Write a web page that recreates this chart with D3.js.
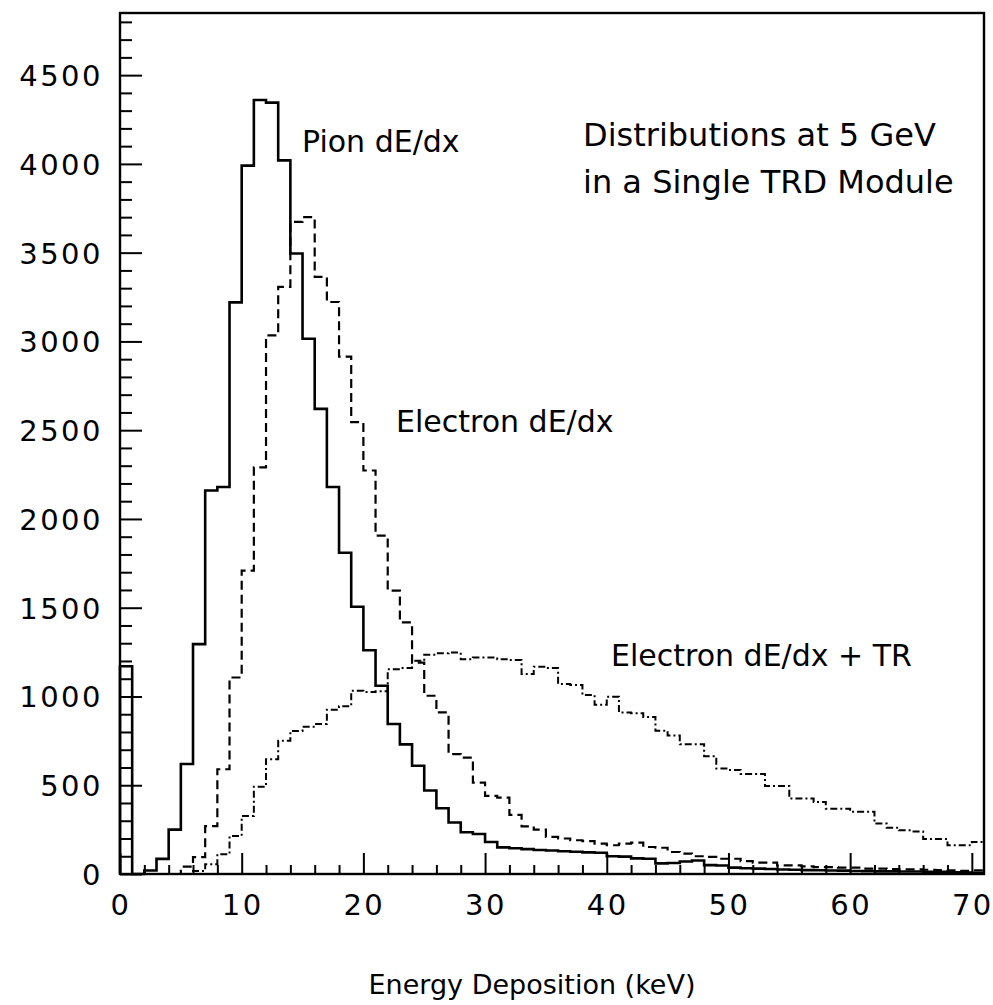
<!DOCTYPE html>
<html>
<head>
<meta charset="utf-8">
<script src="https://cdn.jsdelivr.net/npm/d3@7"></script>
<style>
  body { margin: 0; background: #fff; }
  text { font-family: "DejaVu Sans", sans-serif; fill: #000; }
</style>
</head>
<body>
<svg width="993" height="1005"></svg>
<script>
// Bin contents, 1 keV bins starting at 0 keV (bins 0..70)
const pion = [
  1170, 0, 20, 85, 250, 620, 1295, 2160, 2180, 3220,
  3990, 4360, 4345, 4020, 3495, 3015, 2620, 2180, 1810, 1505,
  1260, 1060, 845, 730, 610, 470, 370, 290, 235, 225,
  180, 150, 145, 140, 135, 132, 128, 125, 122, 120,
  100, 98, 88, 86, 60, 62, 70, 76, 50, 48,
  36, 32, 30, 28, 25, 24, 22, 21, 20, 19,
  17, 16, 15, 15, 14, 14, 13, 12, 9, 8, 7
];
const electron = [
  0, 0, 0, 0, 0, 41, 95, 270, 590, 1107,
  1709, 2291, 3034, 3307, 3673, 3700, 3364, 3222, 2914, 2545,
  2273, 1906, 1596, 1417, 1191, 1004, 910, 675, 656, 515,
  440, 430, 333, 268, 250, 209, 200, 190, 185, 171,
  162, 171, 177, 152, 148, 124, 115, 100, 96, 86,
  86, 73, 64, 64, 49, 49, 43, 39, 39, 36,
  36, 30, 30, 28, 26, 26, 24, 22, 20, 18, 20
];
const electronTR = [
  0, 0, 0, 0, 0, 0, 17, 55, 111, 214,
  327, 492, 647, 750, 806, 830, 845, 925, 945, 1032,
  1025, 1030, 1153, 1160, 1201, 1235, 1243, 1248, 1210, 1220,
  1220, 1210, 1205, 1126, 1168, 1160, 1070, 1065, 1008, 953,
  998, 910, 905, 885, 807, 780, 731, 731, 663, 594,
  586, 564, 564, 496, 496, 425, 425, 406, 368, 368,
  350, 350, 284, 260, 246, 240, 197, 197, 162, 162, 180
];

const xTicksMajor = [0, 10, 20, 30, 40, 50, 60, 70];
const yTicksMajor = [0, 500, 1000, 1500, 2000, 2500, 3000, 3500, 4000, 4500];

const labels = [
  { text: "Pion dE/dx", x: 302, y: 152, size: 30 },
  { text: "Electron dE/dx", x: 396, y: 432, size: 30 },
  { text: "Electron dE/dx + TR", x: 611, y: 666, size: 30 },
  { text: "Distributions at 5 GeV", x: 583, y: 146, size: 32 },
  { text: "in a Single TRD Module", x: 583, y: 193, size: 32 }
];

const svg = d3.select("svg");
const m = { left: 120, right: 984, top: 13, bottom: 874 };

const x = d3.scaleLinear().domain([0, 71]).range([m.left, m.right]);
const y = d3.scaleLinear().domain([0, 4850]).range([m.bottom, m.top]);

// histogram outline as step points
function steps(values) {
  const pts = [[0, 0]];
  values.forEach((v, i) => {
    pts.push([i, v]);
    pts.push([i + 1, v]);
  });
  return pts;
}

const line = d3.line().x((d) => x(d[0])).y((d) => y(d[1]));

const plot = svg.append("g");

plot.append("path")
  .attr("d", line(steps(electronTR)))
  .attr("fill", "none")
  .attr("stroke", "#000")
  .attr("stroke-width", 2)
  .attr("stroke-dasharray", "7,3,2,3");

plot.append("path")
  .attr("d", line(steps(electron)))
  .attr("fill", "none")
  .attr("stroke", "#000")
  .attr("stroke-width", 2.2)
  .attr("stroke-dasharray", "9,5");

plot.append("path")
  .attr("d", line(steps(pion)))
  .attr("fill", "none")
  .attr("stroke", "#000")
  .attr("stroke-width", 2.6);

// inward ticks
const xAxis = d3.axisTop(x)
  .tickValues(d3.range(0, 71, 2))
  .tickSize(9)
  .tickFormat("");
const gx = svg.append("g")
  .attr("transform", `translate(0,${m.bottom})`)
  .call(xAxis);
gx.selectAll(".tick line")
  .filter((d) => d % 10 === 0)
  .attr("y2", -21);

const yAxis = d3.axisRight(y)
  .tickValues(d3.range(0, 4801, 100))
  .tickSize(12)
  .tickFormat("");
const gy = svg.append("g")
  .attr("transform", `translate(${m.left},0)`)
  .call(yAxis);
gy.selectAll(".tick line")
  .filter((d) => d % 500 === 0)
  .attr("x2", 22);

svg.selectAll(".domain").remove();
svg.selectAll(".tick line").attr("stroke", "#000").attr("stroke-width", 2);

// frame
svg.append("rect")
  .attr("x", m.left).attr("y", m.top)
  .attr("width", m.right - m.left).attr("height", m.bottom - m.top)
  .attr("fill", "none")
  .attr("stroke", "#000")
  .attr("stroke-width", 2.4);

// tick labels
svg.append("g").selectAll("text")
  .data(yTicksMajor)
  .enter().append("text")
  .attr("x", 103)
  .attr("y", (d) => y(d) + 11)
  .attr("text-anchor", "end")
  .attr("font-size", 29)
  .attr("letter-spacing", 2.5)
  .text((d) => d);

svg.append("g").selectAll("text")
  .data(xTicksMajor)
  .enter().append("text")
  .attr("x", (d) => x(d) + 1)
  .attr("y", 915)
  .attr("text-anchor", "middle")
  .attr("font-size", 29)
  .attr("letter-spacing", 2.5)
  .text((d) => d);

svg.append("text")
  .attr("x", 532)
  .attr("y", 994)
  .attr("text-anchor", "middle")
  .attr("font-size", 27)
  .text("Energy Deposition (keV)");

svg.append("g").selectAll("text")
  .data(labels)
  .enter().append("text")
  .attr("x", (d) => d.x)
  .attr("y", (d) => d.y)
  .attr("font-size", (d) => d.size)
  .text((d) => d.text);
</script>
</body>
</html>
